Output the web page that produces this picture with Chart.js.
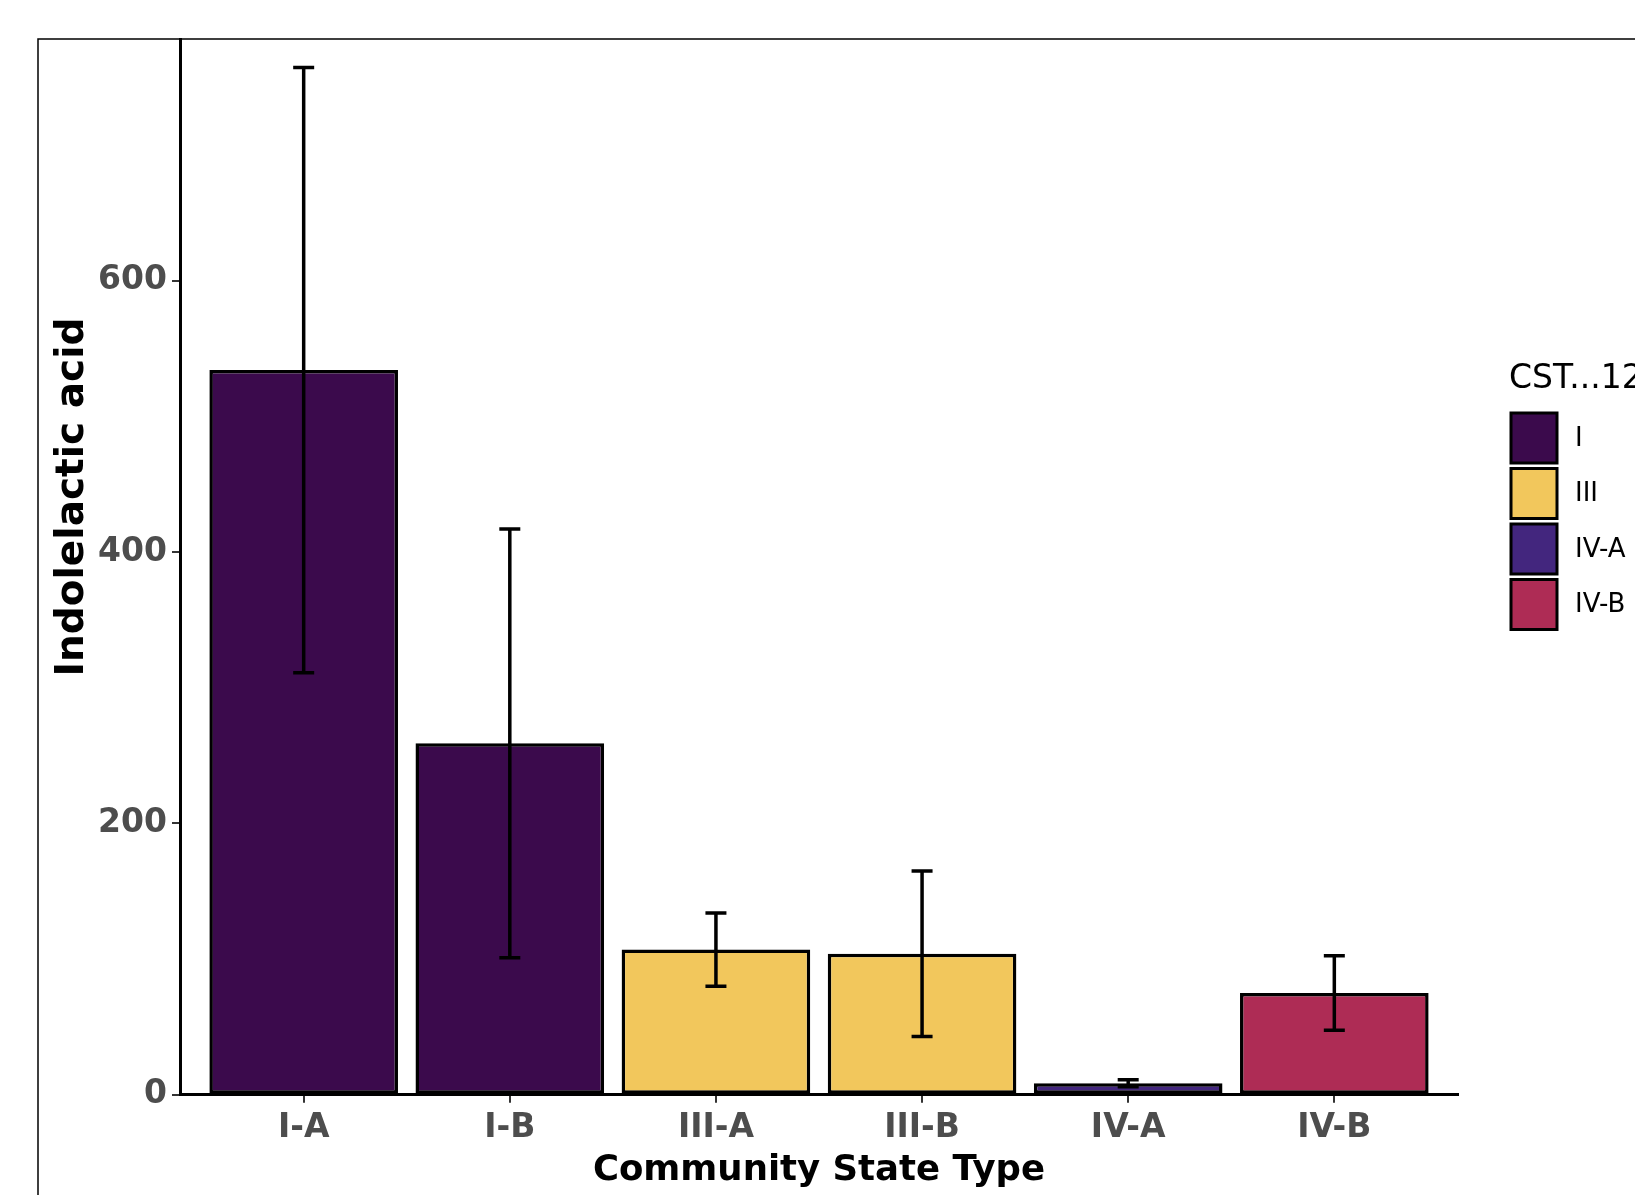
<!DOCTYPE html>
<html>
<head>
<meta charset="utf-8">
<script src="https://cdn.jsdelivr.net/npm/chart.js@4"></script>
<style>
  html, body { margin: 0; padding: 0; background: #ffffff; }
  #wrap { width: 1635px; height: 1195px; position: relative; }
</style>
</head>
<body>
<div id="wrap"><canvas id="c" width="1635" height="1195"></canvas></div>
<script>
// Indolelactic acid by community state type (mean with error)
const categories = ['I-A', 'I-B', 'III-A', 'III-B', 'IV-A', 'IV-B'];
const categoryGroup = ['I', 'I', 'III', 'III', 'IV-A', 'IV-B'];
const meanValues = [534, 259, 107, 104, 8.5, 75];
const errorValues = [223, 158, 27, 61, 2.5, 27.5];
const groups = ['I', 'III', 'IV-A', 'IV-B'];
const groupColors = ['#3B0A4C', '#F2C75C', '#43267E', '#AE2C55'];
const yTickValues = [0, 200, 400, 600];
const legendTitle = 'CST...12';
const yTitle = 'Indolelactic acid';
const xTitle = 'Community State Type';

const FONT = "'DejaVu Sans', sans-serif";

const barColors = categoryGroup.map(g => groupColors[groups.indexOf(g)]);
const points = categories.map((c, i) => ({ x: i + 1, y: meanValues[i] }));

// Outer frame of the figure (open to the right and bottom)
const framePlugin = {
  id: 'frame',
  beforeDraw(chart) {
    const ctx = chart.ctx;
    ctx.save();
    ctx.strokeStyle = '#000000';
    ctx.lineWidth = 1.5;
    ctx.strokeRect(38, 39, 3000, 3000);
    ctx.restore();
  }
};

// Vertical axis title, centred on the panel
const yTitlePlugin = {
  id: 'yTitle',
  afterDraw(chart) {
    const ctx = chart.ctx;
    ctx.save();
    ctx.translate(83, 497);
    ctx.rotate(-Math.PI / 2);
    ctx.fillStyle = '#000000';
    ctx.font = 'bold 39px ' + FONT;
    ctx.textAlign = 'center';
    ctx.textBaseline = 'alphabetic';
    ctx.fillText(yTitle, 0, 0);
    ctx.restore();
  }
};

// Error bars: mean +/- error, drawn through the chart scales
const errorBarPlugin = {
  id: 'errorBars',
  afterDatasetsDraw(chart) {
    const ctx = chart.ctx;
    const xs = chart.scales.x, ys = chart.scales.y;
    ctx.save();
    ctx.strokeStyle = '#000000';
    ctx.lineWidth = 3.5;
    ctx.lineCap = 'butt';
    const half = 10.5;
    meanValues.forEach((m, i) => {
      const x = xs.getPixelForValue(i + 1);
      const yHi = ys.getPixelForValue(m + errorValues[i]);
      const yLo = ys.getPixelForValue(m - errorValues[i]);
      ctx.beginPath();
      ctx.moveTo(x, yHi); ctx.lineTo(x, yLo);
      ctx.moveTo(x - half, yHi); ctx.lineTo(x + half, yHi);
      ctx.moveTo(x - half, yLo); ctx.lineTo(x + half, yLo);
      ctx.stroke();
    });
    ctx.restore();
  }
};

// Fill legend for the CST groups
const groupLegendPlugin = {
  id: 'groupLegend',
  afterDraw(chart) {
    const ctx = chart.ctx;
    ctx.save();
    ctx.fillStyle = '#000000';
    ctx.textAlign = 'left';
    ctx.textBaseline = 'middle';
    ctx.font = '33px ' + FONT;
    ctx.fillText(legendTitle, 1509, 379);
    const keyX = 1511, keyW = 46, keyH = 50, top0 = 413, step = 55.5;
    ctx.font = '26px ' + FONT;
    groups.forEach((g, i) => {
      const y = top0 + i * step;
      ctx.fillStyle = groupColors[i];
      ctx.fillRect(keyX, y, keyW, keyH);
      ctx.strokeStyle = '#000000';
      ctx.lineWidth = 3;
      ctx.strokeRect(keyX, y, keyW, keyH);
      ctx.fillStyle = '#000000';
      ctx.fillText(g, 1575, y + keyH / 2 + 1);
    });
    ctx.restore();
  }
};

new Chart(document.getElementById('c'), {
  type: 'bar',
  data: {
    datasets: [{
      label: yTitle,
      data: points,
      backgroundColor: barColors,
      borderColor: '#000000',
      borderWidth: 3.5,
      borderSkipped: false,
      categoryPercentage: 0.915,
      barPercentage: 1.0
    }]
  },
  options: {
    responsive: false,
    animation: false,
    devicePixelRatio: 1,
    events: [],
    layout: { padding: { left: 0, top: 39, right: 177, bottom: 0 } },
    plugins: {
      legend: { display: false },
      tooltip: { enabled: false }
    },
    scales: {
      x: {
        type: 'linear',
        min: 0.4,
        max: 6.6,
        offset: false,
        afterBuildTicks(scale) {
          scale.ticks = categories.map((c, i) => ({ value: i + 1 }));
        },
        afterFit(scale) { scale.height = 100.2; },
        border: { display: true, color: '#000000', width: 3 },
        grid: {
          display: true, offset: false, drawOnChartArea: false, drawTicks: true,
          tickLength: 8, color: '#333333', lineWidth: 2
        },
        ticks: {
          autoSkip: false,
          maxRotation: 0,
          padding: 6,
          color: '#4D4D4D',
          font: { family: FONT, size: 33, weight: 'bold' },
          callback: (value, index) => categories[index]
        },
        title: {
          display: true,
          text: xTitle,
          color: '#000000',
          font: { family: FONT, size: 35.5, weight: 'bold' },
          padding: { top: 0, bottom: 3 }
        }
      },
      y: {
        type: 'linear',
        min: 0,
        max: 778,
        afterBuildTicks(scale) {
          scale.ticks = yTickValues.map(v => ({ value: v }));
        },
        afterFit(scale) { scale.width = 180; },
        border: { display: true, color: '#000000', width: 3 },
        grid: {
          display: true, drawOnChartArea: false, drawTicks: true,
          tickLength: 8, color: '#333333', lineWidth: 2
        },
        ticks: {
          padding: 5,
          color: '#4D4D4D',
          font: { family: FONT, size: 33, weight: 'bold' },
          callback: (value) => String(value)
        },
        title: { display: false }
      }
    }
  },
  plugins: [framePlugin, errorBarPlugin, yTitlePlugin, groupLegendPlugin]
});
</script>
</body>
</html>
